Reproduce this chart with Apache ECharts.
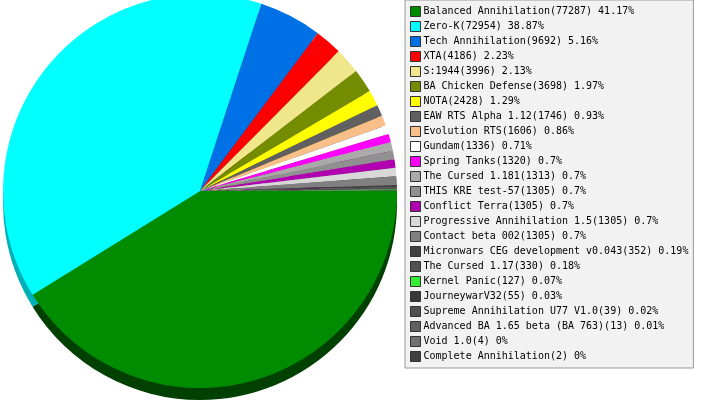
<!DOCTYPE html>
<html>
<head>
<meta charset="utf-8">
<script src="https://cdn.jsdelivr.net/npm/echarts@6/dist/echarts.min.js"></script>
<style>html,body{margin:0;padding:0;background:#fff;}#c{width:701px;height:400px;}</style>
</head>
<body>
<div id="c"></div>
<script>
var names = ["Balanced Annihilation","Zero-K","Tech Annihilation","XTA","S:1944","BA Chicken Defense","NOTA","EAW RTS Alpha 1.12","Evolution RTS","Gundam","Spring Tanks","The Cursed 1.181","THIS KRE test-57","Conflict Terra","Progressive Annihilation 1.5","Contact beta 002","Micronwars CEG development v0.043","The Cursed 1.17","Kernel Panic","JourneywarV32","Supreme Annihilation U77 V1.0","Advanced BA 1.65 beta (BA 763)","Void 1.0","Complete Annihilation"];
var values = [77287,72954,9692,4186,3996,3698,2428,1746,1606,1336,1320,1313,1305,1305,1305,1305,352,330,127,55,39,13,4,2];
var colors = ["#008c00","#00ffff","#0070e6","#ff0000","#f0e68c","#738c00","#ffff00","#606060","#f8c088","#ffffff","#ff00ff","#aaaaaa","#909090","#b000b0","#d8d8d8","#808080","#404040","#505050","#33ee33","#383838","#505050","#606060","#707070","#404040"];
var shadowColors = ["#004000","#00b0b8","#004080","#900000","#a09a5c","#3c4a00","#a0a000","#303030","#a07a50","#bbbbbb","#a000a0","#707070","#606060","#700070","#909090","#505050","#202020","#303030","#209020","#202020","#303030","#303030","#404040","#202020"];

var total = values.reduce(function(a,b){return a+b;},0);
var pct = {}, val = {};
names.forEach(function(n,i){ val[n]=values[i]; pct[n]=Math.round(values[i]/total*10000)/100; });

var mainData = names.map(function(n,i){return {name:n,value:values[i],itemStyle:{color:colors[i]}};});
var shadowData = names.map(function(n,i){return {name:n,value:values[i],itemStyle:{color:shadowColors[i]}};});

var chart = echarts.init(document.getElementById('c'), null, {renderer:'canvas'});
chart.setOption({
  animation:false,
  legend:{
    orient:'vertical',
    left:405, top:0,
    width:284, height:380,
    padding:[6,5,6,5],
    backgroundColor:'#f2f2f2',
    borderColor:'#999999',
    borderWidth:1,
    itemWidth:10, itemHeight:10, itemGap:4,
    icon:'rect',
    selectedMode:false,
    itemStyle:{borderColor:'#333333',borderWidth:1},
    textStyle:{fontFamily:'DejaVu Sans Mono',fontSize:10,color:'#000',lineHeight:10,padding:[0,0,0,-2]},
    data:names,
    formatter:function(n){return n+'('+val[n]+') '+pct[n]+'%';}
  },
  series:[
    {type:'pie', z:3, center:[200,191], radius:[0,197], startAngle:0, clockwise:true,
     label:{show:false}, labelLine:{show:false}, silent:true, emphasis:{disabled:true},
     itemStyle:{borderWidth:0}, data:mainData},
    {type:'pie', z:2, center:[200,203], radius:[0,197], startAngle:0, clockwise:true,
     label:{show:false}, labelLine:{show:false}, silent:true, emphasis:{disabled:true},
     itemStyle:{borderWidth:0}, data:shadowData}
  ]
});
</script>
</body>
</html>
